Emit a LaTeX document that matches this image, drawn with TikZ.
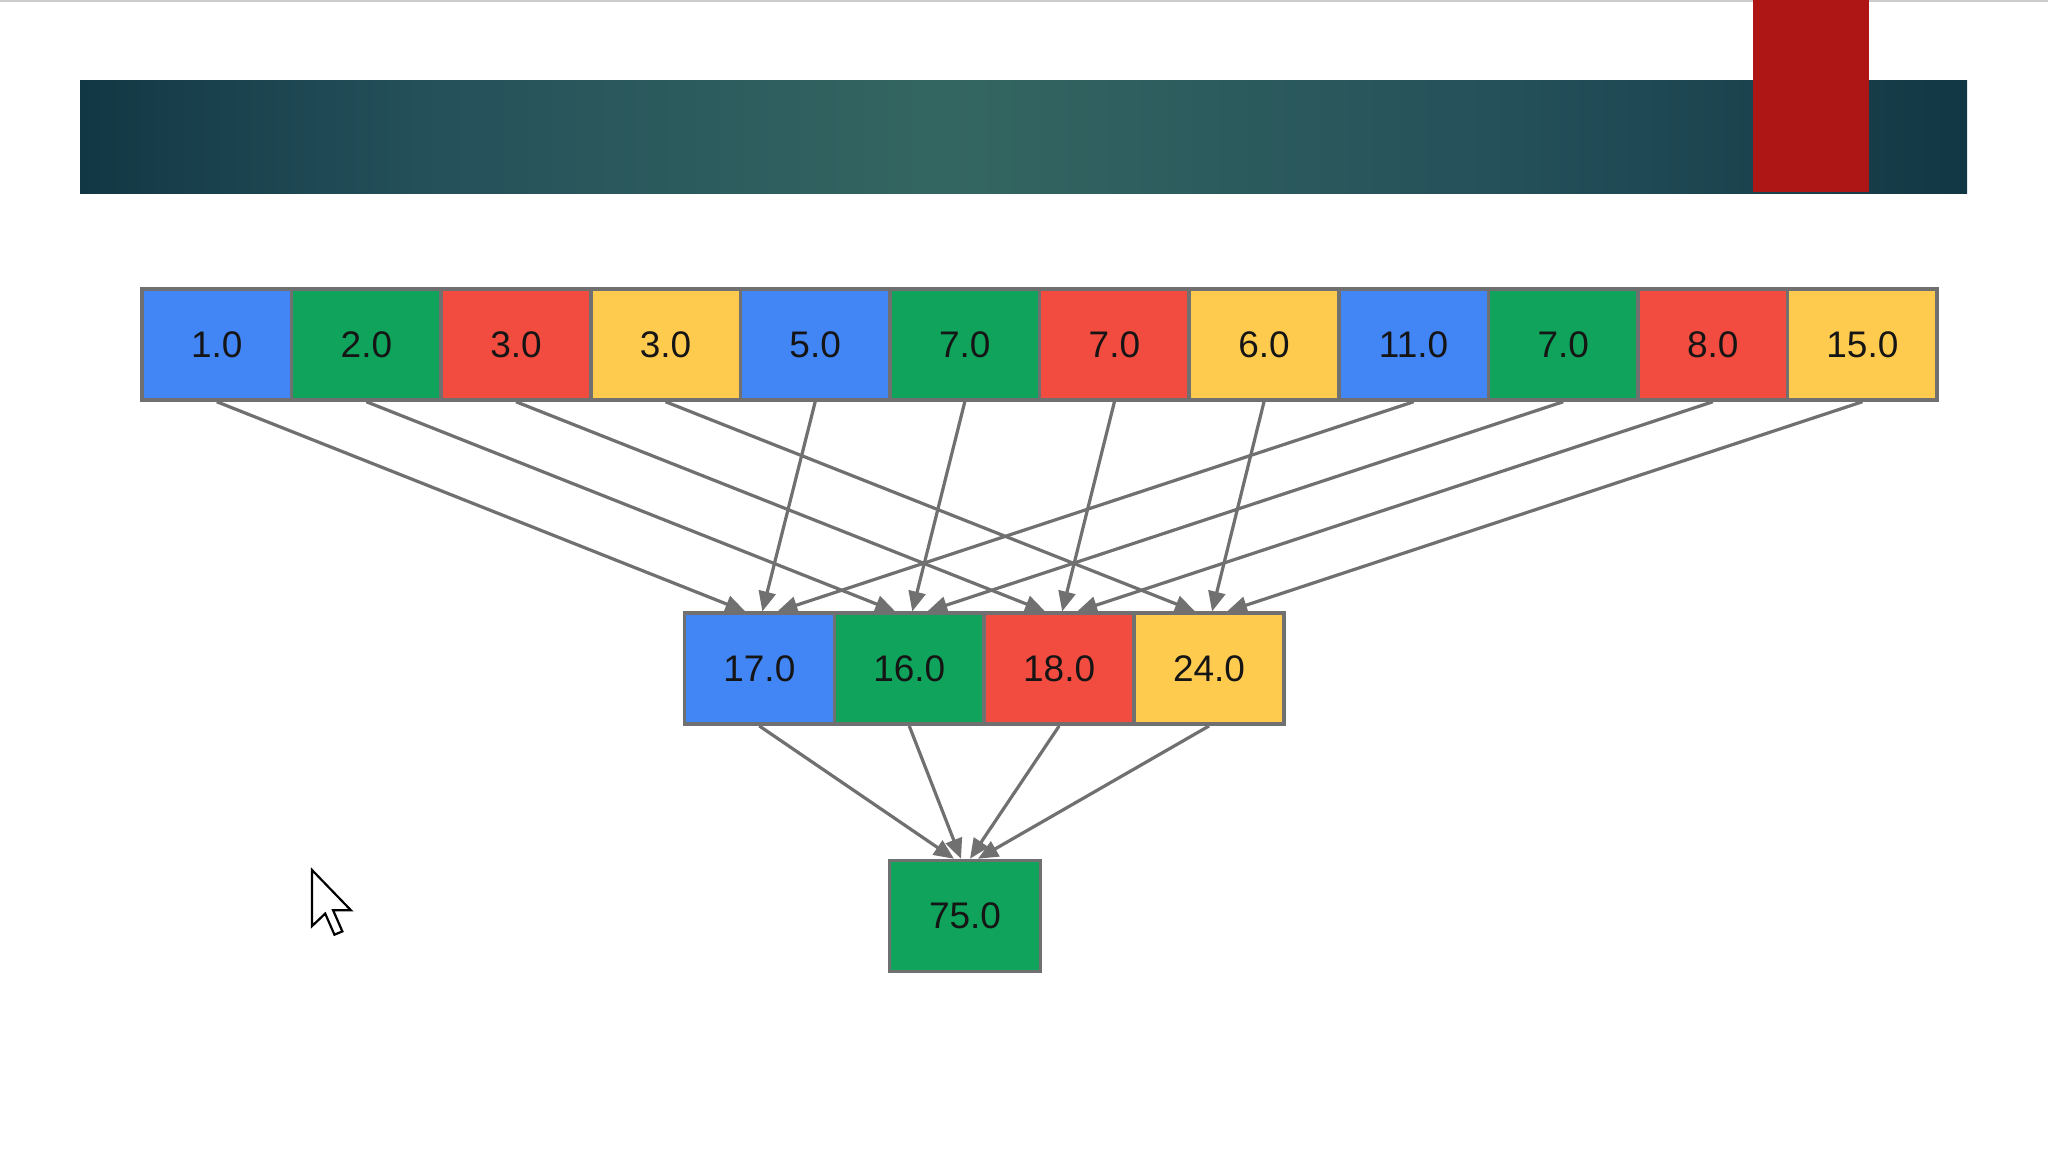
\documentclass[tikz,border=0pt]{standalone}
\usepackage{fontspec}
\setmainfont{Liberation Sans}
\usetikzlibrary{arrows.meta}
\definecolor{gblue}{HTML}{4285F4}
\definecolor{ggreen}{HTML}{0FA35B}
\definecolor{gred}{HTML}{F24B3F}
\definecolor{gyellow}{HTML}{FFCB4E}
\definecolor{edgegray}{HTML}{707070}
\definecolor{bandark}{HTML}{123744}
\definecolor{banmid}{HTML}{24505A}
\definecolor{banlight}{HTML}{346661}
\definecolor{banred}{HTML}{AD1614}
\definecolor{txt}{HTML}{151515}
\pgfdeclarehorizontalshading{banshade}{100bp}{color(0bp)=(bandark); color(25bp)=(bandark); color(34bp)=(banmid); color(48bp)=(banlight); color(63bp)=(banmid); color(75bp)=(bandark); color(100bp)=(bandark)}
\tikzset{
  cell/.style={draw=edgegray, line width=3.5pt, minimum width=149.6pt, minimum height=111pt, inner sep=0pt, font=\fontsize{37}{40}\selectfont, text=txt},
  cb/.style={cell, fill=gblue},
  cg/.style={cell, fill=ggreen},
  cr/.style={cell, fill=gred},
  cy/.style={cell, fill=gyellow},
  conn/.style={draw=edgegray, line width=3.2pt, -{Triangle[length=20pt,width=17pt]}},
}
\begin{document}
\begin{tikzpicture}[x=1pt,y=-1pt]
\useasboundingbox (0,0) rectangle (2048,1152);
\fill[white] (0,0) rectangle (2048,1152);
\draw[black!20, line width=2pt] (0,1) -- (2048,1);
% banner
\shade[shading=banshade] (80,80) rectangle (1967,193);
\fill[banred] (1753,0) rectangle (1869,192);
% top row
\foreach \i/\v/\s in {0/1.0/cb,1/2.0/cg,2/3.0/cr,3/3.0/cy,4/5.0/cb,5/7.0/cg,6/7.0/cr,7/6.0/cy,8/11.0/cb,9/7.0/cg,10/8.0/cr,11/15.0/cy}{
  \node[\s] (t\i) at ({142+149.6*(\i+0.5)},344.5) {\v};
}
% middle row
\foreach \j/\v/\s in {0/17.0/cb,1/16.0/cg,2/18.0/cr,3/24.0/cy}{
  \node[\s, minimum width=149.9pt] (m\j) at ({684.4+149.9*(\j+0.5)},668.7) {\v};
}
% bottom
\node[cg, minimum width=151pt] (b) at (965,916) {75.0};
% connectors top -> middle
\foreach \j in {0,1,2,3}{
  \pgfmathtruncatemacro{\a}{\j}
  \pgfmathtruncatemacro{\b}{\j+4}
  \pgfmathtruncatemacro{\c}{\j+8}
  \draw[conn] (t\a.south) -- ([xshift=-14pt]m\j.north);
  \draw[conn] (t\b.south) -- ([xshift=3pt]m\j.north);
  \draw[conn] (t\c.south) -- ([xshift=18pt]m\j.north);
}
% connectors middle -> bottom
\draw[conn] (m0.south) -- ([xshift=-11pt]b.north);
\draw[conn] (m1.south) -- ([xshift=-4pt]b.north);
\draw[conn] (m2.south) -- ([xshift=5pt]b.north);
\draw[conn] (m3.south) -- ([xshift=13pt]b.north);
% mouse cursor
\begin{scope}[shift={(312,870)}, x=3.3pt, y=-3.3pt]
\filldraw[fill=white, draw=black, line width=2.2pt, line join=miter] (0,0) -- (0,17) -- (4,13.2) -- (6.8,19.6) -- (9.2,18.6) -- (6.4,12.2) -- (11.8,12.2) -- cycle;
\end{scope}
\end{tikzpicture}
\end{document}
